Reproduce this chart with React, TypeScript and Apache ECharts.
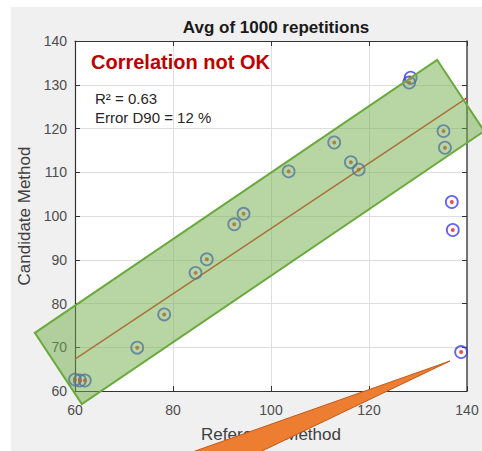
import React, { useEffect, useRef } from "react";
import * as echarts from "echarts";

// Reference Method (x) vs Candidate Method (y), averages of 1000 repetitions
const refValues = [60.0, 61.0, 62.0, 72.7, 78.2, 84.6, 86.9, 92.5, 94.4, 103.6, 112.9, 116.3, 117.9, 128.2, 128.5, 135.2, 135.5, 136.9, 137.1, 138.8];
const candValues = [62.6, 62.4, 62.4, 69.9, 77.5, 87.0, 90.1, 98.1, 100.5, 110.2, 116.8, 112.3, 110.6, 130.5, 131.6, 119.4, 115.6, 103.2, 96.8, 68.9];

// Fitted regression line end points
const fitX = [60, 140];
const fitY = [67.3, 127.0];

// Tolerance band (annotation), corners in data units
const bandX = [51.8, 133.9, 143.5, 61.4];
const bandY = [73.3, 135.7, 119.4, 57.0];

const xTicks = { min: 60, max: 140, interval: 20 };
const yTicks = { min: 60, max: 140, interval: 10 };

const titleText = "Avg of 1000 repetitions";
const xName = "Reference Method";
const yName = "Candidate Method";
const verdict = "Correlation not OK";
const r2Text = "R\u00b2 = 0.63";
const errText = "Error D90 = 12 %";

const FONT = "'Liberation Sans', Arial, Helvetica, sans-serif";

export default function App() {
  const ref = useRef<HTMLDivElement>(null);
  useEffect(() => {
    if (!ref.current) return;
    const chart = echarts.init(ref.current, null, { renderer: "svg" });
    const points = refValues.map((x, i) => [x, candValues[i]]);
    const fit = fitX.map((x, i) => [x, fitY[i]]);
    const axisLineStyle = { color: "#333333", width: 1.2 };
    const tickStyle = { show: true, inside: true, length: 5, lineStyle: { color: "#333333", width: 1 } };
    chart.setOption({
      animation: false,
      backgroundColor: "transparent",
      textStyle: { fontFamily: FONT },
      title: {
        text: titleText,
        left: 271,
        top: 14,
        textAlign: "center",
        textStyle: { fontFamily: FONT, fontSize: 17, fontWeight: "bold", color: "#1a1a1a" },
      },
      grid: {
        left: 75, right: 15, top: 41, bottom: 60,
        show: true, backgroundColor: "#ffffff", borderWidth: 0,
      },
      xAxis: [
        {
          type: "value", ...xTicks, position: "bottom",
          name: xName, nameLocation: "middle", nameGap: 35,
          nameTextStyle: { fontFamily: FONT, fontSize: 17, color: "#404040" },
          axisLine: { show: true, lineStyle: axisLineStyle },
          axisTick: tickStyle,
          axisLabel: { fontFamily: FONT, fontSize: 14, color: "#4d4d4d", margin: 12 },
          splitLine: { show: true, lineStyle: { color: "#dedede", width: 1 } },
        },
        {
          type: "value", ...xTicks, position: "top",
          axisLine: { show: true, lineStyle: axisLineStyle },
          axisTick: tickStyle,
          axisLabel: { show: false },
          splitLine: { show: false },
        },
      ],
      yAxis: [
        {
          type: "value", ...yTicks, position: "left",
          name: yName, nameLocation: "middle", nameGap: 35,
          nameTextStyle: { fontFamily: FONT, fontSize: 17, color: "#404040" },
          axisLine: { show: true, lineStyle: axisLineStyle },
          axisTick: tickStyle,
          axisLabel: { fontFamily: FONT, fontSize: 14, color: "#4d4d4d", margin: 8 },
          splitLine: { show: true, lineStyle: { color: "#dedede", width: 1 } },
        },
        {
          type: "value", ...yTicks, position: "right",
          axisLine: { show: true, lineStyle: { color: "#555555", width: 1.6 } },
          axisTick: tickStyle,
          axisLabel: { show: false },
          splitLine: { show: false },
        },
      ],
      series: [
        {
          type: "line", data: fit, symbol: "none", z: 3,
          lineStyle: { color: "#e3341f", width: 1.4 },
        },
        {
          type: "scatter", data: points, symbol: "circle", symbolSize: 12, z: 4,
          itemStyle: { color: "rgba(0,0,0,0)", borderColor: "#3d3dee", borderWidth: 1.8 },
        },
        {
          type: "scatter", data: points, symbol: "circle", symbolSize: 4, z: 5,
          itemStyle: { color: "#e8232a" },
        },
        {
          type: "custom", z: 10, silent: true, clip: false,
          data: [[100, 100]],
          renderItem: (_params: any, api: any) => ({
            type: "polygon",
            shape: { points: bandX.map((x, i) => api.coord([x, bandY[i]])) },
            style: { fill: "rgba(112,173,71,0.5)", stroke: "#6aaa3c", lineWidth: 2 },
          }),
        },
      ],
      graphic: [
        {
          type: "text", x: 91, y: 62, z: 20,
          style: { text: verdict, fontFamily: FONT, fontSize: 20, fontWeight: "bold", fill: "#c00000", textVerticalAlign: "middle" },
        },
        {
          type: "text", x: 95, y: 98, z: 20,
          style: { text: r2Text, fontFamily: FONT, fontSize: 15, fill: "#262626", textVerticalAlign: "middle" },
        },
        {
          type: "text", x: 95, y: 117, z: 20,
          style: { text: errText, fontFamily: FONT, fontSize: 15, fill: "#262626", textVerticalAlign: "middle" },
        },
        {
          type: "polygon", z: 30,
          shape: { points: [[450, 361], [164, 462], [239, 462]] },
          style: { fill: "#ed7d31", stroke: "#c05a18", lineWidth: 1 },
        },
      ],
    });
    return () => chart.dispose();
  }, []);

  return (
    <div style={{ position: "absolute", left: 0, top: 0, width: 482, height: 451, background: "#ffffff", overflow: "hidden" }}>
      <div style={{ position: "absolute", left: 11, top: 7, right: 0, bottom: 0, background: "#f0f0f0" }} />
      <div ref={ref} style={{ position: "absolute", left: 0, top: 0, width: 482, height: 451 }} />
    </div>
  );
}
